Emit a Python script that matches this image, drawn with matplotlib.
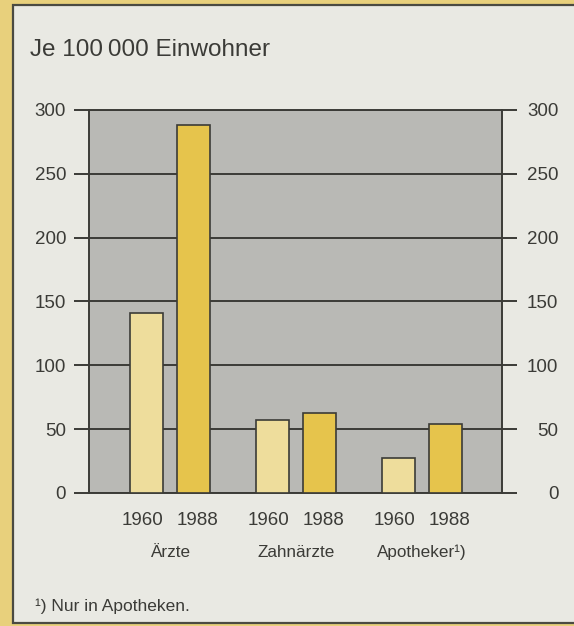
import numpy as np
from matplotlib import pyplot as plt
from matplotlib.patches import Rectangle

plt.rcParams["font.family"] = ["Liberation Sans", "DejaVu Sans"]

# Per 100 000 inhabitants
categories = ["Ärzte", "Zahnärzte", "Apotheker¹)"]
years = ["1960", "1988"]
values_1960 = [141, 57, 27]
values_1988 = [288, 63, 54]
y_ticks = [0, 50, 100, 150, 200, 250, 300]

ink = "#3b3b37"
col_1960 = "#eedd9c"
col_1988 = "#e6c44c"

fig = plt.figure(figsize=(5.74, 6.26), dpi=100)
fig.patch.set_facecolor("#e8d07c")

# light panel with a dark frame
panel = Rectangle((13 / 574, 1 - 623 / 626), 1, 618 / 626,
                  transform=fig.transFigure, facecolor="#e9e9e3",
                  edgecolor="#4a4a42", linewidth=1.6, zorder=-5)
fig.patches.append(panel)

ax = fig.add_axes([0.155, 0.2125, 0.7196, 0.612])
ax.set_zorder(2)
ax.set_facecolor("#b9b9b5")

x = np.arange(len(categories))
off = 0.188
w = 0.262
ax.bar(x - off, values_1960, w, color=col_1960, edgecolor=ink, linewidth=1.2, zorder=3)
ax.bar(x + off, values_1988, w, color=col_1988, edgecolor=ink, linewidth=1.2, zorder=3)

ax.set_xlim(-0.645, 2.633)
ax.set_ylim(0, 300)
ax.set_yticks(y_ticks)
ax.yaxis.grid(True, color=ink, linewidth=1.4)
ax.set_axisbelow(True)
ax.tick_params(axis="y", length=10.5, width=1.4, color=ink, labelsize=13.5,
               labelcolor=ink, pad=6)
ax.set_xticks([])
for s in ax.spines.values():
    s.set_color(ink)
    s.set_linewidth(1.4)

# right-hand scale, numbers flush right
ax2 = ax.twinx()
ax2.set_ylim(ax.get_ylim())
ax2.set_yticks(y_ticks)
ax2.tick_params(axis="y", length=10.5, width=1.4, color=ink, labelsize=13.5,
                labelcolor=ink, pad=30)
for lab in ax2.get_yticklabels():
    lab.set_horizontalalignment("right")
for s in ax2.spines.values():
    s.set_visible(False)

tr = ax.get_xaxis_transform()
lab_off = 0.218
for i, cat in enumerate(categories):
    ax.text(i - lab_off, -0.072, years[0], transform=tr, ha="center", va="center",
            fontsize=13.5, color=ink)
    ax.text(i + lab_off, -0.072, years[1], transform=tr, ha="center", va="center",
            fontsize=13.5, color=ink)
    ax.text(i, -0.155, cat, transform=tr, ha="center", va="center",
            fontsize=12.3, color=ink)

fig.text(0.052, 0.92, "Je 100\u2009000 Einwohner", fontsize=17.5, color=ink,
         ha="left", va="center")
fig.text(0.061, 0.031, "¹) Nur in Apotheken.", fontsize=12.5, color=ink,
         ha="left", va="center")

fig.savefig("out.png", dpi=100, facecolor=fig.get_facecolor())
